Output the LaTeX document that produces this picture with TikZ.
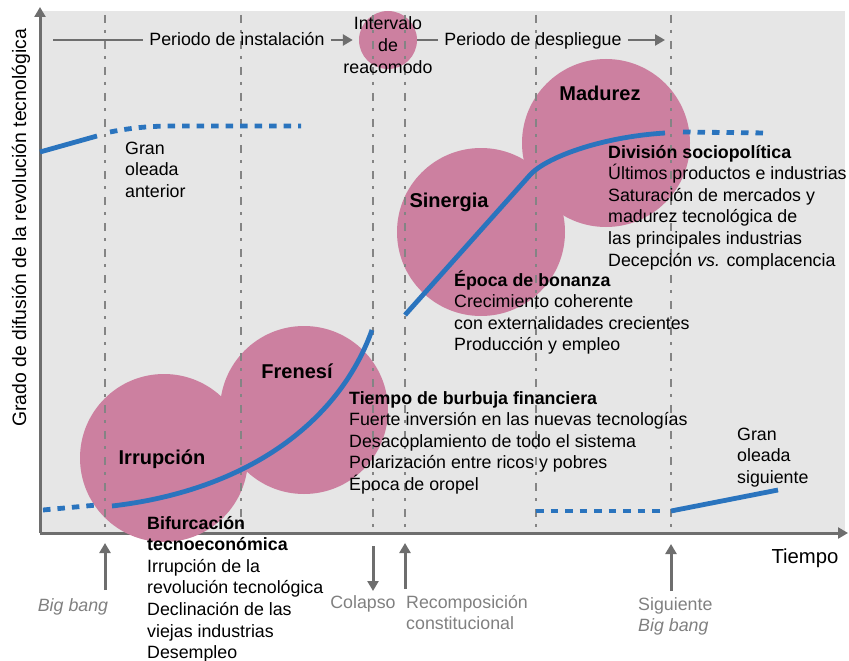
\documentclass[tikz,border=0pt]{standalone}
\usepackage{fontspec}
\setmainfont{Liberation Sans}
\usetikzlibrary{arrows.meta}
\definecolor{panelgray}{HTML}{E6E6E6}
\definecolor{bubblepink}{HTML}{CC80A0}
\definecolor{waveblue}{HTML}{2A74BE}
\definecolor{axisgray}{HTML}{6E6E6E}
\definecolor{labelgray}{HTML}{808080}
\begin{document}
\begin{tikzpicture}[x=1pt,y=-1pt,>={Triangle[length=10pt,width=11pt]},font=\fontsize{17.8}{21.6}\selectfont]
\tikzset{
  bubble/.style={circle,fill=bubblepink,minimum size=168pt,inner sep=0pt},
  phase/.style={inner sep=0pt,font=\fontsize{20}{24}\selectfont\bfseries},
  note/.style={align=left,anchor=base west,inner sep=0pt},
  period/.style={inner xsep=6pt,inner ysep=0pt,text height=12pt,text depth=0pt},
  wave/.style={waveblue,line width=4.8pt},
  wavedash/.style={wave,dash pattern=on 7.5pt off 7pt},
  guide/.style={axisgray!85,line width=1.2pt,dash pattern=on 8pt off 7pt on 3pt off 8pt},
  axisline/.style={axisgray,line width=3pt,->},
  marker/.style={axisgray,line width=3pt,->},
  event/.style={labelgray,inner sep=0pt}
}
\useasboundingbox (0,0) rectangle (849,661);
\fill[panelgray] (40,11) rectangle (845,533);
\coordinate (origin) at (40,533);
\coordinate (ytip) at (40,7);
\coordinate (xtip) at (848,533);
\draw[axisline] (origin) -- (ytip);
\draw[axisline] (origin) -- (xtip);
\node[rotate=90,font=\fontsize{19.4}{23}\selectfont] (ylabel) at (21,228) {Grado de difusión de la revolución tecnológica};
\node[anchor=base,font=\fontsize{20.3}{24}\selectfont] (tiempo) at (805,563) {Tiempo};

\node[bubble] (irrupcion) at (164,458) {};
\node[bubble] (frenesi) at (304,410) {};
\node[bubble] (sinergia) at (481,232) {};
\node[bubble] (madurez) at (606,143) {};
\node[circle,fill=bubblepink,minimum size=58pt,inner sep=0pt] (reacomodo) at (388,40) {};

\foreach \gx [count=\gi] in {105,241,373,405,536,671} {
  \coordinate (gtop\gi) at (\gx,15);
  \coordinate (gbot\gi) at (\gx,533);
  \draw[guide] (gtop\gi) -- (gbot\gi);
}

\draw[wave] (40,152) -- (97,136);
\draw[wavedash] (110,132) .. controls (135,127) and (155,126) .. (175,126) -- (301,126);
\draw[wavedash] (43,510) -- (97,505);
\draw[wave] (112,506) .. controls (250,490) and (340,420) .. (372,330);
\draw[wave] (405,315) -- (530,175) .. controls (545,158) and (600,137) .. (665,133);
\draw[wavedash] (683,132) -- (767,133);
\draw[wavedash] (536,511) -- (665,511);
\draw[wave] (671,511) -- (778,490);

\node[phase] (lirrupcion) at (162,459) {Irrupción};
\node[phase] (lfrenesi) at (297,371) {Frenesí};
\node[phase] (lsinergia) at (449,202) {Sinergia};
\node[phase] (lmadurez) at (600,93) {Madurez};

\node[period] (instalacion) at (237,40) {Periodo de instalación};
\node[period] (despliegue) at (533,40) {Periodo de despliegue};
\coordinate (periodstart) at (53,40);
\coordinate (periodend) at (665,40);
\draw[axisgray,line width=2.5pt] (periodstart) -- (instalacion.west);
\draw[axisgray,line width=2.5pt,->,shorten >=6pt] (instalacion.east) -- (reacomodo.west);
\draw[axisgray,line width=2.5pt] (reacomodo.east) -- (despliegue.west);
\draw[axisgray,line width=2.5pt,->] (despliegue.east) -- (periodend);
\node[align=center,anchor=base,inner sep=0pt] (intervalo) at (388,73.2) {Intervalo\\de\\reacomodo};

\node[note] (previa) at (125,197.2) {Gran\\oleada\\anterior};
\node[note] (bifurcacion) at (147,658.6) {\textbf{Bifurcación}\\\textbf{tecnoeconómica}\\Irrupción de la\\revolución tecnológica\\Declinación de las\\viejas industrias\\Desempleo};
\node[note] (burbuja) at (349,490.4) {\textbf{Tiempo de burbuja financiera}\\Fuerte inversión en las nuevas tecnologías\\Desacoplamiento de todo el sistema\\Polarización entre ricos y pobres\\Época de oropel};
\node[note] (bonanza) at (454,350.8) {\textbf{Época de bonanza}\\Crecimiento coherente\\con externalidades crecientes\\Producción y empleo};
\node[note] (division) at (608,266) {\textbf{División sociopolítica}\\Últimos productos e industrias\\Saturación de mercados y\\madurez tecnológica de\\las principales industrias\\Decepción \textit{vs.} complacencia};
\node[note] (siguiente) at (737,483.2) {Gran\\oleada\\siguiente};

\coordinate (bigbangtail) at (105,590);
\coordinate (colapsotail) at (373,546);
\coordinate (recomptail) at (405,589);
\coordinate (nexttail) at (671,591);
\draw[marker] (bigbangtail) -- ([yshift=-10pt]gbot1);
\draw[marker] (colapsotail) -- ([yshift=-58pt]gbot3);
\draw[marker] (recomptail) -- ([yshift=-10pt]gbot4);
\draw[marker] (nexttail) -- ([yshift=-11pt]gbot6);
\node[event,anchor=base,font=\fontsize{17.8}{21.6}\selectfont\itshape] (bigbang) at (73,611) {Big bang};
\node[event,anchor=base] (colapso) at (363,608) {Colapso};
\node[event,note] (recomposicion) at (406,629.6) {Recomposición\\constitucional};
\node[event,note] (nextbang) at (638,631.6) {Siguiente\\\textit{Big bang}};
\end{tikzpicture}
\end{document}
